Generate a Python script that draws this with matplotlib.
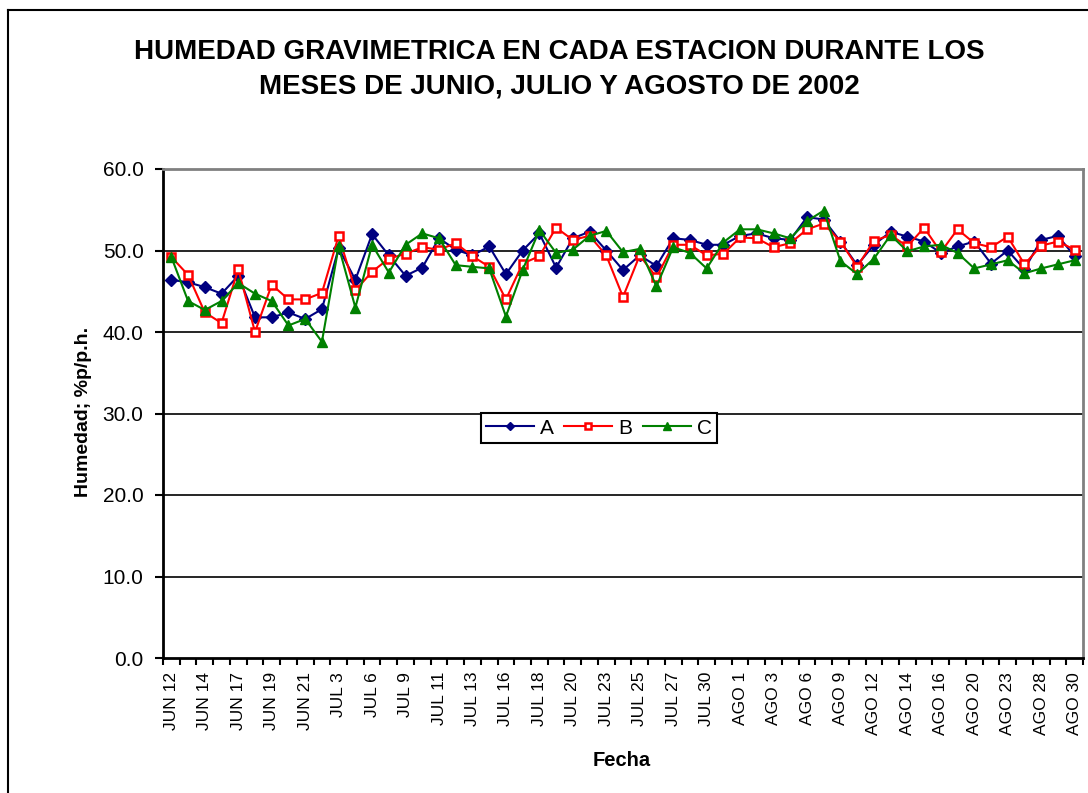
import matplotlib
matplotlib.use("Agg")
import matplotlib.pyplot as plt
from matplotlib.lines import Line2D

plt.rcParams["font.family"] = ["Liberation Sans", "DejaVu Sans"]

# fecha labels (shown on every second sample)
tick_labels = [
    "JUN 12", "JUN 14", "JUN 17", "JUN 19", "JUN 21", "JUL 3", "JUL 6",
    "JUL 9", "JUL 11", "JUL 13", "JUL 16", "JUL 18", "JUL 20", "JUL 23",
    "JUL 25", "JUL 27", "JUL 30", "AGO 1", "AGO 3", "AGO 6", "AGO 9",
    "AGO 12", "AGO 14", "AGO 16", "AGO 20", "AGO 23", "AGO 28", "AGO 30",
]

est_a = [
    46.4, 46.1, 45.5, 44.7, 46.9, 41.8, 41.8, 42.4, 41.6, 42.8,
    50.3, 46.4, 52.0, 49.4, 46.9, 47.9, 51.5, 50.1, 49.4, 50.5,
    47.1, 50.0, 52.1, 47.9, 51.5, 52.3, 50.0, 47.6, 49.4, 48.1,
    51.5, 51.3, 50.7, 50.7, 51.8, 52.1, 51.5, 51.3, 54.1, 53.8,
    51.1, 48.2, 50.7, 52.3, 51.7, 51.1, 49.7, 50.5, 51.1, 48.4,
    50.0, 47.7, 51.3, 51.8, 49.3,
]
est_b = [
    49.2, 47.0, 42.4, 41.1, 47.7, 40.0, 45.8, 44.0, 44.0, 44.8,
    51.8, 45.1, 47.4, 49.0, 49.6, 50.4, 50.1, 50.9, 49.3, 48.0,
    44.0, 48.4, 49.3, 52.8, 51.3, 51.8, 49.4, 44.3, 49.4, 46.7,
    50.7, 50.7, 49.4, 49.6, 51.6, 51.5, 50.4, 50.9, 52.6, 53.3,
    51.1, 48.0, 51.2, 51.9, 50.5, 52.8, 49.8, 52.6, 50.9, 50.4,
    51.7, 48.3, 50.6, 51.1, 50.1,
]
est_c = [
    49.2, 43.8, 42.7, 43.8, 46.0, 44.7, 43.8, 40.8, 41.6, 38.8,
    50.5, 43.0, 50.7, 47.3, 50.7, 52.1, 51.5, 48.2, 48.0, 47.8,
    41.9, 47.6, 52.5, 49.7, 50.1, 51.8, 52.4, 49.8, 50.2, 45.6,
    50.4, 49.7, 47.8, 51.0, 52.6, 52.6, 52.1, 51.5, 53.6, 54.9,
    48.7, 47.1, 49.0, 51.9, 49.9, 50.5, 50.7, 49.7, 47.8, 48.3,
    48.8, 47.2, 47.8, 48.3, 48.8,
]

n = len(est_a)
x = list(range(n))

fig = plt.figure(figsize=(10.88, 7.93), dpi=100)
ax = fig.add_axes([163 / 1088, 1 - 658 / 793, 920 / 1088, 489 / 793])

# outer chart frame (left and top edges visible)
fig.add_artist(Line2D([8 / 1088, 8 / 1088], [0, 1 - 10 / 793], color="black", lw=1.5))
fig.add_artist(Line2D([8 / 1088, 1], [1 - 10 / 793, 1 - 10 / 793], color="black", lw=1.5))

ax.plot(x, est_a, color="#000080", lw=1.5, marker="D", ms=6, label="A")
ax.plot(x, est_b, color="#ff0000", lw=1.5, marker="s", ms=5.5, mfc="white",
        mec="#ff0000", mew=1.8, label="B")
ax.plot(x, est_c, color="#008000", lw=1.5, marker="^", ms=7.5, label="C")

ax.set_xlim(-0.5, n - 0.5)
ax.set_ylim(0, 60)
ax.set_yticks(range(0, 61, 10))
ax.set_yticklabels([f"{v:.1f}" for v in range(0, 61, 10)], fontsize=15)
for v in range(10, 60, 10):
    ax.axhline(v, color="black", lw=1.2, zorder=0)

ax.set_xticks([i - 0.5 for i in range(n + 1)])
ax.set_xticklabels([])
ax.set_xticks(list(range(0, n, 2)), minor=True)
ax.set_xticklabels(tick_labels, minor=True, rotation=90, fontsize=12.5)
ax.tick_params(axis="x", which="major", length=5, width=1.5, direction="out")
ax.tick_params(axis="x", which="minor", length=0, pad=10)
ax.tick_params(axis="y", length=6, width=1.5, direction="out", pad=8)

for s in ("top", "right"):
    ax.spines[s].set_color("#808080")
    ax.spines[s].set_linewidth(2)
for s in ("left", "bottom"):
    ax.spines[s].set_color("black")
    ax.spines[s].set_linewidth(2)

fig.text(84 / 1088, 1 - 412 / 793, "Humedad; %p/p.h.", fontsize=14, fontweight="bold",
         rotation=90, ha="center", va="center")
fig.text(622 / 1088, 1 - 761 / 793, "Fecha", fontsize=14.5, fontweight="bold",
         ha="center", va="center")

fig.text(559 / 1088, 1 - 52 / 793, "HUMEDAD GRAVIMETRICA EN CADA ESTACION DURANTE LOS",
         fontsize=20, fontweight="bold", ha="center", va="center")
fig.text(559 / 1088, 1 - 87 / 793, "MESES DE JUNIO, JULIO Y AGOSTO DE 2002",
         fontsize=20, fontweight="bold", ha="center", va="center")

leg = ax.legend(ncol=3, loc="center", bbox_to_anchor=(0.474, 0.470), fontsize=15,
                frameon=True, fancybox=False, handlelength=2.3, columnspacing=0.5,
                handletextpad=0.3, borderpad=0.25, borderaxespad=0, markerscale=0.75)
leg.get_frame().set_edgecolor("black")
leg.get_frame().set_linewidth(1.5)
leg.get_frame().set_alpha(1)

fig.savefig("out.png", dpi=100)
